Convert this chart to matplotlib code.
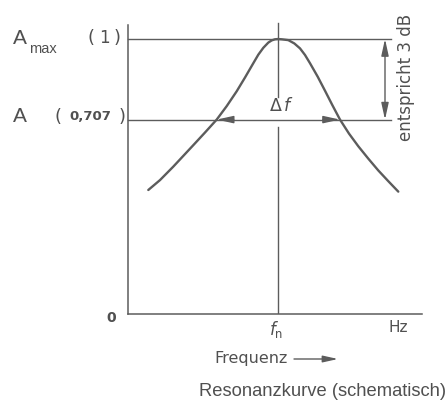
import matplotlib
matplotlib.use("Agg")
import matplotlib.pyplot as plt

# Resonance curve (schematic): relative frequency offset from f_n and amplitude
freq_left = [-12.97, -11.8, -10.47, -9.47, -8.47, -7.3, -6.13, -5.13, -4.13,
             -3.3, -2.47, -1.97, -1.47, -0.97, -0.63, -0.3, 0.0]
amp_left = [0.451, 0.487, 0.536, 0.575, 0.614, 0.660, 0.707, 0.756, 0.810,
            0.860, 0.912, 0.943, 0.968, 0.987, 0.995, 0.999, 1.0]
freq_right = [0.37, 1.03, 1.63, 2.2, 2.7, 3.2, 3.97, 4.7, 5.43, 6.2, 7.1, 8.03,
              9.03, 10.03, 11.03, 12.03]
amp_right = [0.999, 0.996, 0.984, 0.966, 0.942, 0.912, 0.863, 0.812, 0.760,
             0.707, 0.656, 0.610, 0.565, 0.522, 0.483, 0.445]

a_max = 1.0
a_3db = 0.707
bw_left = -6.13
bw_right = 6.2

W, H = 448, 405
LINE = "#5c5c5c"
TXT = "#505050"

fig = plt.figure(figsize=(W / 100, H / 100), dpi=100)
fig.patch.set_facecolor("white")


def fx(px):
    return px / W


def fy(py):
    return 1 - py / H


ax = fig.add_axes([fx(128), fy(314), (422 - 128) / W, (314 - 25) / H])
ax.set_xlim(-15.0, 14.4)
ax.set_ylim(0, 1.051)
for s in ("top", "right"):
    ax.spines[s].set_visible(False)
for s in ("left", "bottom"):
    ax.spines[s].set_color(LINE)
    ax.spines[s].set_linewidth(1.1)
ax.set_xticks([])
ax.set_yticks([])
ax.patch.set_alpha(0)

freq = freq_left + freq_right
amp = amp_left + amp_right
ax.plot(freq, amp, color=LINE, lw=1.7, solid_capstyle="round", solid_joinstyle="round")

# reference levels
ax.plot([-15, 11.3], [a_max, a_max], color=LINE, lw=1.0, clip_on=False)
ax.plot([-15, 11.3], [a_3db, a_3db], color=LINE, lw=1.0, clip_on=False)

# centre line at f_n, interrupted by the bandwidth label
ax.plot([0, 0], [0, 0.679], color=LINE, lw=1.0)
ax.plot([0, 0], [0.788, 1.058], color=LINE, lw=1.0, clip_on=False)

# bandwidth arrows
head = "-|>,head_length=1.0,head_width=0.22"
ax.annotate("", xy=(bw_left, a_3db), xytext=(bw_left + 1.7, a_3db),
            arrowprops=dict(arrowstyle=head, color=LINE, lw=1.0, shrinkA=0, shrinkB=0))
ax.annotate("", xy=(bw_right, a_3db), xytext=(bw_right - 1.7, a_3db),
            arrowprops=dict(arrowstyle=head, color=LINE, lw=1.0, shrinkA=0, shrinkB=0))
ax.text(0.4, 0.757, r"$\Delta\,f$", ha="center", va="center", fontsize=12.5, color=TXT)

# 3 dB span arrow
ax.annotate("", xy=(10.7, a_max), xytext=(10.7, a_3db),
            arrowprops=dict(arrowstyle="<|-|>,head_length=1.0,head_width=0.22",
                            color=LINE, lw=1.0, shrinkA=0, shrinkB=0))
fig.text(fx(406), fy(77), "entspricht 3 dB", rotation=90, ha="center", va="center",
         fontsize=12, color=TXT, family="DejaVu Sans")

# y-axis labels
fig.text(fx(13), fy(39), "A", ha="left", va="center", fontsize=15, color=TXT,
         family="Liberation Sans")
fig.text(fx(29), fy(49), "max", ha="left", va="center", fontsize=10.5, color=TXT,
         family="Liberation Sans")
fig.text(fx(91), fy(38), "(", ha="center", va="center", fontsize=13, color=TXT)
fig.text(fx(104), fy(38), "1", ha="center", va="center", fontsize=12, color=TXT)
fig.text(fx(117), fy(38), ")", ha="center", va="center", fontsize=13, color=TXT)

fig.text(fx(13), fy(117), "A", ha="left", va="center", fontsize=15, color=TXT,
         family="Liberation Sans")
fig.text(fx(58), fy(117), "(", ha="center", va="center", fontsize=13, color=TXT)
fig.text(fx(90), fy(117), "0,707", ha="center", va="center", fontsize=9.5, color=TXT,
         fontweight="bold")
fig.text(fx(122), fy(117), ")", ha="center", va="center", fontsize=13, color=TXT)

fig.text(fx(111), fy(318), "0", ha="center", va="center", fontsize=10, color=TXT,
         fontweight="bold")

# x-axis labels
fig.text(fx(276), fy(329), r"$f_{\mathrm{n}}$", ha="center", va="center", fontsize=12,
         color=TXT)
fig.text(fx(398), fy(328), "Hz", ha="center", va="center", fontsize=11, color=TXT)
fig.text(fx(251), fy(359), "Frequenz", ha="center", va="center", fontsize=11.5,
         color=TXT)
ax.annotate("", xy=(338, H - 359), xycoords="figure pixels",
            xytext=(294, H - 359), textcoords="figure pixels",
            arrowprops=dict(arrowstyle="-|>,head_length=0.9,head_width=0.2",
                            color=LINE, lw=1.0, shrinkA=0, shrinkB=0))

fig.text(fx(446), fy(391), "Resonanzkurve (schematisch)", ha="right", va="center",
         fontsize=13.2, color=TXT, family="Liberation Sans")

fig.savefig("out.png", dpi=100, facecolor="white")
